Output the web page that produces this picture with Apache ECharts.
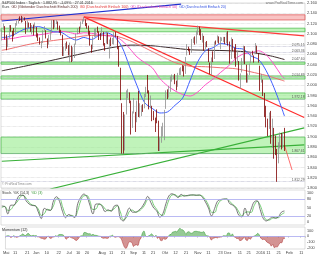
<!DOCTYPE html>
<html><head><meta charset="utf-8">
<script src="https://cdn.jsdelivr.net/npm/echarts@6/dist/echarts.min.js"></script>
<style>html,body{margin:0;padding:0;background:#fff}#c{width:320px;height:256px}</style>
</head><body><div id="c"></div>
<script>
// ---- trading calendar ----
const holidays = ['2015-05-25','2015-07-03','2015-09-07','2015-11-26','2015-12-25','2016-01-01','2016-01-18','2016-02-15'];
const categories = [];
for (let d = new Date(Date.UTC(2015,4,1)); d <= new Date(Date.UTC(2016,1,16)); d.setUTCDate(d.getUTCDate()+1)) {
  const wd = d.getUTCDay(); const s = d.toISOString().slice(0,10);
  if (wd === 0 || wd === 6 || holidays.includes(s)) continue;
  categories.push(s);
}
const tickDates = ['2015-05-01','2015-05-11','2015-05-21','2015-06-01','2015-06-10','2015-06-22','2015-07-01','2015-07-10','2015-07-20','2015-08-03','2015-08-11','2015-08-21','2015-09-01','2015-09-11','2015-09-21','2015-10-01','2015-10-12','2015-10-21','2015-11-02','2015-11-11','2015-11-23','2015-12-01','2015-12-11','2015-12-21','2016-01-04','2016-01-11','2016-01-21','2016-02-01','2016-02-11'];
const tickTexts = ['Mai','11','21','Jun','10','22','Jul','10','20','Aug','11','21','Sep','11','21','Okt','12','21','Nov','11','23','Dez','11','21','2016','11','21','Feb','11'];

// ---- price (OHLC) ----
const opens = [2087,2108,2113,2091,2079,2092,2116,2103,2100,2100,2122,2121,2129,2128,2125,2130,2125,2105,2122,2120,
2109,2110,2111,2112,2096,2093,2079,2082,2106,2107,2091,2085,2097,2101,2121,2112,2123,2123,2109,2103,2098,2061,
2067,2078,2073,2069,2077,2049,2053,2079,2100,2109,2109,2125,2127,2127,2118,2114,2102,2079,2070,2094,2106,2111,
2104,2097,2096,2100,2082,2081,2102,2082,2086,2083,2089,2101,2095,2076,2034,1965,1898,1873,1943,1986,1986,
1970,1917,1950,1948,1928,1971,1941,1951,1963,1955,1978,1995,1990,1961,1960,1943,1935,1936,1929,1881,1888,
1920,1921,1954,1986,1982,1994,2013,2015,2015,2004,1997,2025,2031,2033,2033,2022,2058,2075,2068,2066,2088,2090,
2081,2102,2110,2102,2098,2096,2077,2084,2072,2044,2023,2054,2051,2083,2083,2089,2085,2089,2089,2091,
2082,2101,2081,2051,2090,2073,2061,2047,2047,2013,2025,2047,2074,2040,2011,2023,2043,2064,2058,2061,2077,2061,
2038,2014,2011,1985,1946,1927,1928,1940,1892,1917,1889,1876,1861,1877,1906,1878,1903];
const closes = [2108,2114,2089,2080,2088,2116,2105,2099,2098,2121,2123,2129,2128,2126,2131,2126,2104,2123,2121,2107,
2112,2110,2114,2096,2093,2079,2080,2105,2109,2094,2084,2096,2100,2121,2110,2123,2124,2109,2102,2101,2058,2063,
2077,2077,2069,2081,2047,2051,2077,2100,2109,2107,2124,2127,2128,2119,2114,2102,2080,2068,2093,2109,2109,2104,
2098,2093,2100,2084,2078,2104,2084,2086,2083,2092,2102,2097,2080,2036,1971,1893,1868,1941,1988,1989,1972,
1914,1949,1951,1921,1969,1942,1952,1961,1953,1978,1995,1990,1958,1967,1943,1939,1932,1931,1882,1884,1920,
1924,1951,1987,1980,1996,2013,2015,2017,2004,1994,2024,2033,2034,2031,2019,2053,2075,2071,2066,2090,2089,2079,
2104,2110,2102,2100,2099,2079,2082,2075,2046,2023,2053,2050,2084,2081,2089,2087,2089,2089,2090,2080,
2103,2080,2050,2092,2077,2064,2048,2052,2012,2022,2043,2073,2042,2006,2021,2039,2064,2061,2057,2078,2063,2044,
2013,2017,1990,1943,1922,1924,1939,1890,1922,1880,1881,1859,1869,1907,1877,1903,1883];
const lows = [2087,2108,2089,2068,2074,2092,2104,2085,2095,2100,2116,2120,2125,2122,2123,2126,2100,2105,2112,2104,
2099,2097,2110,2093,2086,2079,2072,2082,2106,2091,2072,2079,2088,2101,2109,2112,2119,2108,2102,2097,2057,2057,
2067,2071,2058,2044,2045,2047,2053,2079,2099,2102,2109,2119,2124,2115,2110,2098,2077,2063,2070,2094,2094,2102,
2088,2088,2095,2077,2067,2081,2080,2052,2076,2080,2079,2094,2070,2036,1971,1867,1867,1873,1943,1975,1965,
1904,1917,1945,1909,1928,1938,1937,1940,1948,1955,1977,1984,1953,1955,1930,1932,1909,1926,1872,1872,1888,
1900,1893,1954,1973,1976,1987,2007,2012,2002,1990,1997,2020,2020,2027,2017,2022,2058,2066,2059,2063,2082,2079,
2081,2098,2097,2088,2083,2067,2070,2074,2045,2022,2020,2045,2051,2079,2083,2081,2070,2086,2084,2080,
2082,2077,2042,2051,2066,2052,2036,2045,2009,1993,2025,2042,2041,2005,2005,2020,2043,2058,2044,2061,2062,2044,
1989,2005,1979,1938,1918,1901,1915,1886,1878,1857,1864,1812,1848,1877,1875,1878,1872];
const highs = [2108,2120,2115,2098,2092,2117,2117,2106,2111,2121,2126,2131,2134,2135,2133,2132,2125,2126,2122,2121,
2117,2118,2122,2113,2101,2093,2086,2107,2115,2107,2091,2098,2106,2127,2127,2127,2127,2124,2116,2108,2098,2075,
2082,2085,2078,2083,2077,2074,2081,2100,2111,2114,2124,2128,2133,2128,2121,2116,2106,2079,2095,2110,2111,2114,
2105,2102,2113,2104,2082,2105,2102,2089,2093,2092,2103,2104,2096,2076,2034,1965,1948,1943,1990,1993,1986,
1970,1949,1975,1948,1970,1989,1965,1961,1963,1983,1997,2020,1990,1980,1960,1950,1937,1953,1931,1899,1920,
1927,1952,1990,1992,1999,2017,2021,2019,2022,2009,2024,2033,2035,2039,2038,2055,2080,2075,2071,2090,2093,2095,
2106,2116,2114,2109,2101,2096,2084,2086,2072,2044,2054,2066,2085,2087,2097,2095,2094,2093,2094,2094,
2103,2105,2085,2093,2090,2073,2080,2067,2047,2023,2053,2077,2076,2040,2023,2042,2064,2067,2058,2082,2077,2062,
2038,2022,2011,1985,1960,1935,1947,1950,1935,1917,1902,1876,1889,1908,1907,1906,1917];

// ---- moving averages [dayIndex, value] ----
const ma20 = [[0,2093],[4,2094],[9,2100],[14,2108],[19,2112],[24,2114],[29,2110],[34,2104],[39,2103],[44,2094],[49,2088],[54,2093],[59,2089],[64,2097],[69,2102],[74,2095],[79,2075],[84,2037],[89,1999],[94,1966],[99,1955],[104,1946],[109,1948],[114,1961],[119,1975],[124,2010],[129,2046],[134,2067],[139,2073],[144,2081],[149,2079],[154,2072],[159,2070],[164,2057],[169,2050],[174,2028],[179,1996],[184,1957],[186,1940]];
const ma50 = [[0,2089],[4,2090],[9,2092],[14,2095],[19,2096],[24,2098],[29,2100],[34,2103],[39,2105],[44,2103],[49,2100],[54,2102],[59,2101],[64,2099],[69,2096],[74,2095],[79,2087],[84,2072],[89,2055],[94,2044],[99,2034],[104,2013],[109,1999],[114,1989],[119,1982],[124,1979],[129,1987],[134,2001],[139,2012],[144,2025],[149,2037],[154,2052],[159,2061],[164,2063],[169,2067],[174,2059],[179,2041],[184,2019],[186,2013]];
const ma100 = [[0,2068],[4,2070],[14,2077],[24,2083],[34,2087],[44,2091],[54,2096],[64,2097],[74,2096],[84,2087],[94,2073],[104,2058],[114,2044],[124,2037],[134,2036],[144,2034],[154,2032],[164,2026],[174,2019],[184,2010],[186,2008]];
const ma200 = [[0,2028],[20,2040],[40,2053],[60,2066],[72,2073],[85,2078],[98,2077],[111,2073],[124,2069],[137,2068],[150,2067],[164,2064],[177,2057],[186,2050]];

// ---- drawn trendlines [dayIndex, price] ----
const redSteep = [[54,2133],[199,1937]];
const redFlat = [[54,2133],[199,2096]];
const blueTop = [[0,2125],[118,2158]];
const greenSteep = [[32,1798],[199,1917]];
const greenFlat = [[0,1852],[199,1884]];
const redArrow = [[186,1883],[191,1835]];

// ---- zones & levels ----
const greenZones = [[2104,2111],[2041,2045],[2012,2018],[1973,1985],[1867,1899]];
const pinkZones = [[2127,2137]];
const levels = [2075.15,2063.36,2047.60,2014.89,1972.18,1867.61,1812.29];

// ---- stochastic [dayIndex, value] ----
const stochK = [[0,55],[2,53],[4,28],[6,58],[8,58],[10,78],[12,92],[14,92],[16,73],[18,62],[20,57],[22,56],[24,35],[26,12],[28,47],[30,42],[32,40],[34,72],[36,87],[38,71],[40,36],[42,15],[44,26],[46,21],[48,16],[50,63],[52,85],[54,96],[56,87],[58,58],[60,28],[62,62],[64,62],[66,54],[68,36],[70,42],[72,37],[74,55],[76,58],[78,13],[80,4],[82,27],[84,48],[86,34],[88,34],[90,40],[92,50],[94,67],[96,88],[98,68],[100,48],[102,38],[104,17],[106,29],[108,63],[110,90],[112,97],[114,92],[116,84],[118,95],[120,89],[122,91],[124,93],[126,93],[128,92],[130,93],[132,85],[134,69],[136,48],[138,21],[140,46],[142,72],[144,77],[146,79],[148,79],[150,63],[152,58],[154,47],[156,23],[158,18],[160,48],[162,22],[164,44],[166,69],[168,73],[170,43],[172,13],[174,4],[176,10],[178,17],[180,13],[182,18],[184,34],[186,38]];
const stochD = [[0,50],[2,54],[4,40],[6,43],[8,58],[10,68],[12,85],[14,92],[16,82],[18,67],[20,59],[22,56],[24,45],[26,23],[28,29],[30,44],[32,41],[34,56],[36,79],[38,79],[40,53],[42,25],[44,20],[46,23],[48,18],[50,40],[52,74],[54,90],[56,91],[58,72],[60,43],[62,45],[64,62],[66,58],[68,45],[70,39],[72,40],[74,46],[76,56],[78,35],[80,8],[82,15],[84,37],[86,41],[88,34],[90,37],[92,45],[94,58],[96,77],[98,78],[100,58],[102,43],[104,27],[106,23],[108,46],[110,76],[112,93],[114,94],[116,88],[118,89],[120,92],[122,90],[124,92],[126,93],[128,92],[130,92],[132,89],[134,77],[136,58],[138,34],[140,33],[142,59],[144,74],[146,78],[148,79],[150,71],[152,60],[154,52],[156,35],[158,20],[160,33],[162,35],[164,33],[166,56],[168,71],[170,58],[172,28],[174,8],[176,7],[178,13],[180,15],[182,15],[184,26],[186,32]];

// ---- momentum (12) ----
const momentum = [2,9,8,-21,-9,9,-7,-18,-10,6,17,43,20,12,42,46,16,7,16,8,14,-11,-9,-33,-35,-47,-51,-21,5,-29,-37,-11,-12,11,-4,27,31,30,22,-4,-51,-31,-7,-19,-31,-40,-63,-72,-47,-9,7,6,66,64,51,42,45,21,33,17,16,9,0,-3,-26,-34,-28,-35,-36,2,4,18,-10,-17,-7,-7,-18,-57,-129,-191,-210,-163,-96,-97,-111,-178,-153,-146,-159,-67,-29,59,93,12,-10,6,18,44,18,-8,18,-37,-11,-70,-77,-33,-54,-44,-3,22,29,70,76,85,73,112,140,113,110,80,32,73,79,58,51,73,85,85,80,77,68,69,80,26,7,4,-20,-67,-36,-29,-20,-29,-13,-13,-10,10,8,5,57,57,-3,42,-7,-17,-41,-35,-77,-67,-47,-7,-61,-74,-29,-53,-13,-3,9,26,51,22,-30,-56,-52,-63,-99,-115,-125,-171,-135,-198,-182,-185,-144,-110,-113,-40,-39];

// ---- build ----
const FONT = 'Liberation Sans';
const de = (v, d) => v.toLocaleString('de-DE', {minimumFractionDigits: d, maximumFractionDigits: d});
const candles = closes.map((c, i) => [opens[i], c, lows[i], highs[i]]);
const last = a => a[a.length - 1][1];
const tickSet = new Set(tickDates);
const tickMap = {}; tickDates.forEach((d, i) => tickMap[d] = tickTexts[i]);

function boxLine(val, bg, fg, border) {
  return { yAxis: val, symbol: 'none', lineStyle: {opacity: 0},
    label: {show: true, position: 'end', distance: 1, formatter: de(val, 2), fontSize: 3.8, fontFamily: FONT,
      color: fg, backgroundColor: bg, borderColor: border || bg, borderWidth: 0.5, padding: [0.5, 1]} };
}
function trend(data, color, width) {
  return { type: 'line', xAxisIndex: 0, yAxisIndex: 0, data, symbol: 'none', silent: true, z: 3,
    lineStyle: {color, width: width || 1} };
}
function zoneArea(z, fill, edge) {
  return [{yAxis: z[0], itemStyle: {color: fill, borderColor: edge, borderWidth: 0.8}}, {yAxis: z[1]}];
}

const xBase = (gi, showLabels) => ({
  type: 'category', gridIndex: gi, data: categories, boundaryGap: true,
  axisLine: {show: false}, splitLine: {show: false},
  axisTick: {show: showLabels, length: 1.5, lineStyle: {color: '#999', width: 0.5},
    interval: (i, v) => tickSet.has(v)},
  axisLabel: {show: showLabels, interval: (i, v) => tickSet.has(v), formatter: v => tickMap[v] || '',
    fontSize: 4, fontFamily: FONT, color: '#444', margin: 1.5}
});

const option = {
  animation: false,
  backgroundColor: '#fff',
  grid: [
    {left: 1, right: 15, top: 3, height: 185, show: true, borderColor: '#bbb', borderWidth: 0.5},
    {left: 1, right: 15, top: 190, height: 35, show: true, borderColor: '#bbb', borderWidth: 0.5},
    {left: 1, right: 15, top: 227, height: 22, show: true, borderColor: '#bbb', borderWidth: 0.5}
  ],
  xAxis: [xBase(0, false), xBase(1, false), xBase(2, true)],
  yAxis: [
    {type: 'value', gridIndex: 0, position: 'right', min: 1800, max: 2160, interval: 20,
      axisLine: {show: false}, axisTick: {show: false},
      axisLabel: {fontSize: 4, fontFamily: FONT, color: '#444', margin: 2, formatter: v => de(v, 0)},
      splitLine: {lineStyle: {type: 'dotted', color: '#c8c8c8', width: 0.6}}},
    {type: 'value', gridIndex: 1, position: 'right', min: -10, max: 110, interval: 10,
      axisLine: {show: false}, axisTick: {show: false},
      axisLabel: {fontSize: 3.8, fontFamily: FONT, color: '#444', margin: 2,
        formatter: v => ([0,20,50,80,100].includes(v) ? String(v) : '')},
      splitLine: {show: false}},
    {type: 'value', gridIndex: 2, position: 'right', min: -220, max: 160, interval: 20,
      axisLine: {show: false}, axisTick: {show: false},
      axisLabel: {fontSize: 3.8, fontFamily: FONT, color: '#444', margin: 2,
        formatter: v => ([100,0,-100,-200].includes(v) ? String(v) : '')},
      splitLine: {show: false}}
  ],
  visualMap: [{type: 'piecewise', show: false, seriesIndex: 14, dimension: 1,
    pieces: [{min: 0.0001, max: 1000, color: '#3f9f3f'}, {min: -1000, max: 0, color: '#b03a3a'}]}],
  series: [
    // 0 zones & levels
    {type: 'line', xAxisIndex: 0, yAxisIndex: 0, data: [], silent: true, z: 1,
      markArea: {silent: true, data: greenZones.map(z => zoneArea(z, 'rgba(150,235,140,0.6)', '#55c055'))
        .concat(pinkZones.map(z => zoneArea(z, 'rgba(245,170,170,0.7)', '#e06060')))},
      markLine: {silent: true, symbol: 'none', data: levels.map(v => ({yAxis: v,
        lineStyle: {type: 'dotted', color: '#9a9ab8', width: 0.6},
        label: {show: true, position: 'insideEndTop', distance: 0.5, formatter: de(v, 2), fontSize: 3.3,
          fontFamily: FONT, color: '#555'}}))}},
    // 1 candles
    {type: 'candlestick', xAxisIndex: 0, yAxisIndex: 0, data: candles, barWidth: '72%', z: 5,
      itemStyle: {color: '#ffffff', color0: '#a30000', borderColor: '#8f8f8f', borderColor0: '#7d0000', borderWidth: 0.8},
      markLine: {silent: true, symbol: 'none', data: [boxLine(closes[closes.length - 1], '#ffff70', '#333', '#c8c800')]}},
    // 2..5 moving averages
    {type: 'line', xAxisIndex: 0, yAxisIndex: 0, data: ma200, symbol: 'none', smooth: 0.3, z: 4,
      lineStyle: {color: '#3b2a2a', width: 1},
      markLine: {silent: true, symbol: 'none', data: [boxLine(last(ma200), '#e8e8e8', '#222', '#777')]}},
    {type: 'line', xAxisIndex: 0, yAxisIndex: 0, data: ma100, symbol: 'none', smooth: 0.3, z: 4,
      lineStyle: {color: '#f07070', width: 1},
      markLine: {silent: true, symbol: 'none', data: [boxLine(last(ma100), '#ffd6d6', '#a00', '#f07070')]}},
    {type: 'line', xAxisIndex: 0, yAxisIndex: 0, data: ma50, symbol: 'none', smooth: 0.3, z: 4,
      lineStyle: {color: '#ff50c8', width: 1},
      markLine: {silent: true, symbol: 'none', data: [boxLine(last(ma50), '#ffc8ee', '#a0007a', '#ff50c8')]}},
    {type: 'line', xAxisIndex: 0, yAxisIndex: 0, data: ma20, symbol: 'none', smooth: 0.3, z: 4,
      lineStyle: {color: '#4060ff', width: 1},
      markLine: {silent: true, symbol: 'none', data: [boxLine(last(ma20), '#ffffff', '#2040d0', '#4060ff')]}},
    // 6..11 trendlines
    trend(redSteep, '#ff2a2a', 1.1),
    trend(redFlat, '#ff3a3a', 1.1),
    trend(blueTop, '#2030d0', 1.2),
    trend(greenSteep, '#38b038', 1.1),
    trend(greenFlat, '#38b038', 1.1),
    Object.assign(trend(redArrow, '#ff3030', 0.7), {symbol: ['none', 'circle'], symbolSize: 2, showSymbol: true,
      itemStyle: {color: '#ff3030'}}),
    // 12,13 stochastic
    {type: 'line', xAxisIndex: 1, yAxisIndex: 1, data: stochK, symbol: 'none', smooth: 0.4, z: 4,
      lineStyle: {color: '#555', width: 0.8},
      markLine: {silent: true, symbol: 'none', label: {show: false},
        lineStyle: {type: 'solid', color: '#a8a8f0', width: 0.8}, data: [{yAxis: 80}, {yAxis: 20}]}},
    {type: 'line', xAxisIndex: 1, yAxisIndex: 1, data: stochD, symbol: 'none', smooth: 0.4, z: 3,
      lineStyle: {color: '#55c055', width: 0.8}},
    // 14 momentum
    {type: 'line', xAxisIndex: 2, yAxisIndex: 2, data: momentum, symbol: 'none', smooth: 0.2, z: 4,
      lineStyle: {width: 0.6}, areaStyle: {opacity: 0.55},
      markLine: {silent: true, symbol: 'none', label: {show: false},
        lineStyle: {type: 'solid', color: '#a8a8f0', width: 0.8}, data: [{yAxis: 0}]}}
  ],
  graphic: [
    {type: 'text', left: 2, top: 0.5, z: 20, style: {text: 'S&P500 Index · Täglich · 1.882,95 · -1,09% · 27.01.2016',
      fontSize: 3.6, fontFamily: FONT, fill: '#333'}},
    {type: 'text', left: 2, top: 5, z: 20, style: {
      text: '{k|Kurs}  {a|GD (Gleitender Durchschnitt Einfach 200)}  {b|GD (Durchschnitt Einfach 100)}  {c|GD (Durchschnitt Einfach 50)}  {d|GD (Durchschnitt Einfach 20)}',
      fontSize: 3.6, fontFamily: FONT,
      rich: {k: {fill: '#333', fontSize: 3.6}, a: {fill: '#5a2a2a', fontSize: 3.6}, b: {fill: '#e03030', fontSize: 3.6},
        c: {fill: '#e040b0', fontSize: 3.6}, d: {fill: '#3050e0', fontSize: 3.6}}}},
    {type: 'text', right: 17, top: 1, z: 20, style: {text: 'www.ProRealTime.com', fontSize: 3.6, fontFamily: FONT, fill: '#777'}},
    {type: 'text', left: 2, top: 183, z: 20, style: {text: '© ProRealTime.com', fontSize: 3.3, fontFamily: FONT, fill: '#888'}},
    {type: 'text', left: 2, top: 190.5, z: 20, style: {
      text: '{k|Stoch. %K (14,3)}  {d|%D (3)}', fontSize: 3.6, fontFamily: FONT,
      rich: {k: {fill: '#333', fontSize: 3.6}, d: {fill: '#3a9a3a', fontSize: 3.6}}}},
    {type: 'text', left: 2, top: 227.5, z: 20, style: {text: 'Momentum (12)', fontSize: 3.6, fontFamily: FONT, fill: '#333',
      backgroundColor: '#f4f4f4'}}
  ]
};
echarts.init(document.getElementById('c'), null, {renderer: 'canvas'}).setOption(option);
</script></body></html>
